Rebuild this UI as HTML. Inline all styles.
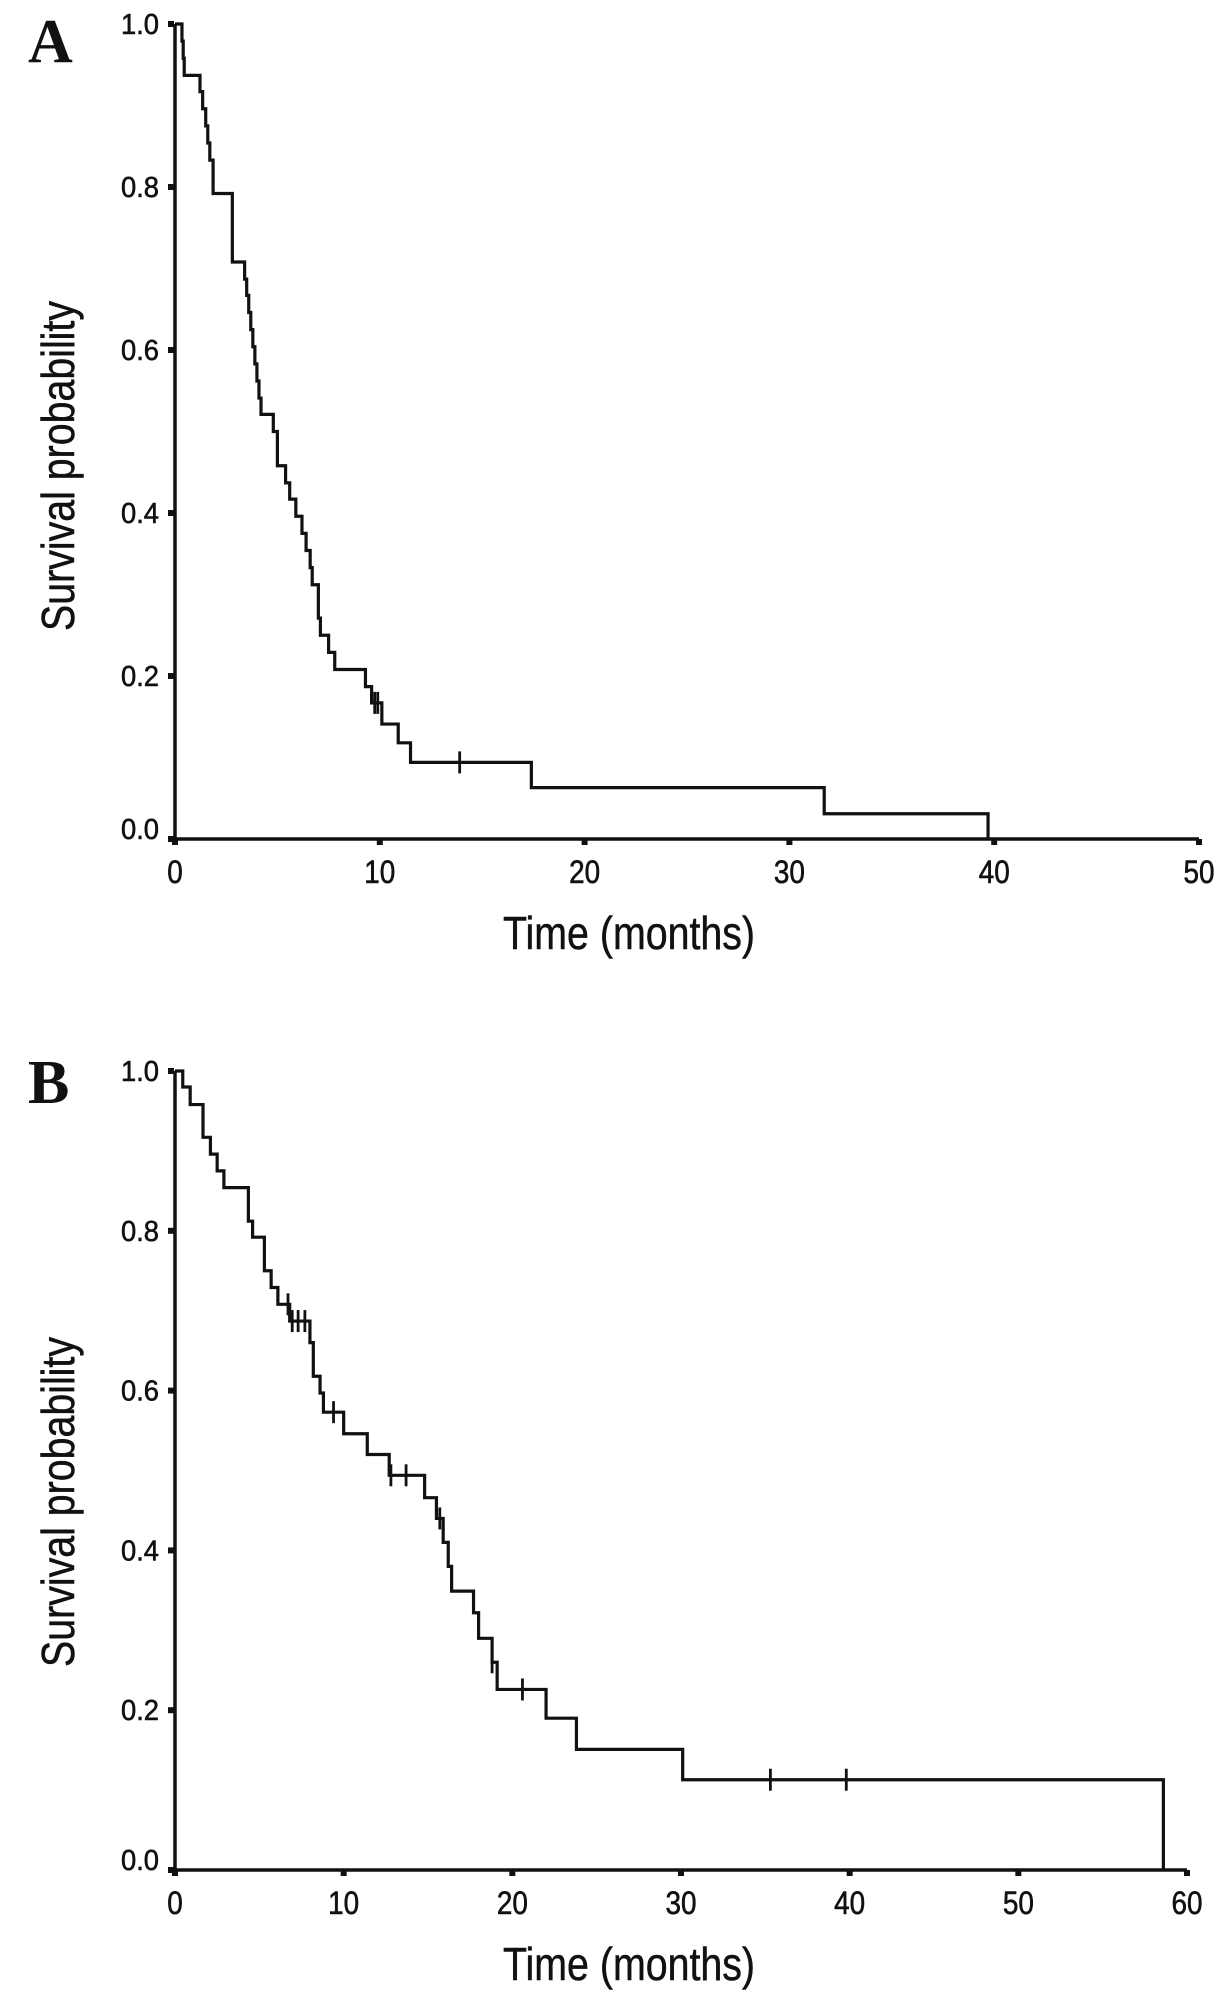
<!DOCTYPE html>
<html><head><meta charset="utf-8"><style>
html,body{margin:0;padding:0;background:#fff;}
svg{display:block;}
text{fill:#111;}
</style></head><body>
<svg id="fig" width="1224" height="2003" viewBox="0 0 1224 2003" xmlns="http://www.w3.org/2000/svg">
<text x="28" y="62" font-family="Liberation Serif, serif" font-weight="bold" font-size="62">A</text>
<text x="28" y="1103" font-family="Liberation Serif, serif" font-weight="bold" font-size="62">B</text>
</svg>
<script>
// Panel A data
const aTimes = [0.34,0.4,0.45,1.22,1.35,1.5,1.6,1.7,1.86,2.8,3.4,3.5,3.6,3.7,3.8,3.9,4.0,4.1,4.2,4.8,5.0,5.4,5.6,5.9,6.2,6.4,6.6,6.7,7.0,7.1,7.5,7.8,9.3,9.6,10.1,10.9,11.5,17.4,31.7,39.7];
const aSurv  = [0.979,0.958,0.937,0.917,0.896,0.875,0.854,0.833,0.792,0.708,0.687,0.667,0.646,0.625,0.604,0.583,0.562,0.541,0.521,0.5,0.458,0.437,0.417,0.396,0.375,0.354,0.333,0.312,0.271,0.25,0.229,0.208,0.187,0.167,0.141,0.118,0.094,0.063,0.031,0];
const aCensorTimes = [9.75,9.9,13.9];
const aXTicks = [0,10,20,30,40,50];
const yTicks = [0.0,0.2,0.4,0.6,0.8,1.0];
// Panel B data
const bTimes = [0.46,0.9,1.66,2.1,2.5,2.9,4.35,4.6,5.3,5.7,6.1,6.8,8.0,8.2,8.6,8.8,10.0,11.4,12.7,14.8,15.5,15.9,16.2,16.4,17.7,18.0,18.8,19.1,22.0,23.8,30.1,58.6];
const bSurv  = [0.98,0.958,0.917,0.896,0.875,0.854,0.812,0.792,0.75,0.729,0.708,0.687,0.66,0.618,0.597,0.573,0.546,0.52,0.494,0.466,0.44,0.41,0.38,0.349,0.322,0.29,0.26,0.226,0.19,0.151,0.113,0];
const bCensorTimes = [6.7,6.95,7.3,7.7,9.4,12.8,13.7,15.7,18.8,20.6,35.3,39.8];
const bXTicks = [0,10,20,30,40,50,60];

const NS = 'http://www.w3.org/2000/svg';
const svg = document.getElementById('fig');
function el(tag, attrs, parent){const e=document.createElementNS(NS,tag);for(const k in attrs)e.setAttribute(k,attrs[k]);(parent||svg).appendChild(e);return e;}

function panel(cfg){
  const g = el('g',{});
  
  
  const xs = t => cfg.x0 + t / cfg.xmax * (cfg.x1 - cfg.x0);
  const ys = v => cfg.y0 - v * (cfg.y0 - cfg.y1);
  const ax = el('line',{x1:xs(0),y1:cfg.y0,x2:xs(cfg.xmax),y2:cfg.y0,stroke:'#111','stroke-width':3.5},g);
  
  
  const ay = el('line',{x1:cfg.x0,y1:ys(1),x2:cfg.x0,y2:cfg.y0,stroke:'#111','stroke-width':3.5},g);
  
  
  cfg.xticks.forEach(t=>{
    const m = el('rect',{x:xs(t)-3,y:cfg.y0,width:6,height:6,fill:'#111'},g);
    
    
    const lb = el('text',{x:xs(t),y:cfg.y0+44,'text-anchor':'middle','font-family':'Liberation Sans, sans-serif','font-size':32,'stroke':'#111','stroke-width':0.6,textLength:String(t).length*15.5,lengthAdjust:'spacingAndGlyphs'},g);
    lb.textContent = t;
    
    
  });
  yTicks.forEach(v=>{
    const m = el('rect',{x:cfg.x0-7,y:ys(v)-3,width:6,height:6,fill:'#111'},g);
    
    
    const lb = el('text',{x:cfg.x0-16,y:ys(v)+10-(v===0?10:0),'text-anchor':'end','font-family':'Liberation Sans, sans-serif','font-size':29,'stroke':'#111','stroke-width':0.6,textLength:38,lengthAdjust:'spacingAndGlyphs'},g);
    lb.textContent = v.toFixed(1);
    
    
  });
  let d = 'M'+xs(0)+' '+ys(1);
  let cur = 1;
  cfg.times.forEach((t,i)=>{ d += ' L'+xs(t)+' '+ys(cur)+' L'+xs(t)+' '+ys(cfg.surv[i]); cur = cfg.surv[i]; });
  const p = el('path',{d:d,fill:'none',stroke:'#111','stroke-width':3.2},g);
  
  
  const survAt = t => { let s=1; cfg.times.forEach((tt,i)=>{ if(tt<=t) s=cfg.surv[i]; }); return s; };
  cfg.censor.forEach(t=>{
    const yy = ys(survAt(t));
    const c = el('line',{x1:xs(t),y1:yy-11,x2:xs(t),y2:yy+11,stroke:'#111','stroke-width':2.8},g);
    
    
  });
  const xt = el('text',{x:cfg.xTitleX,y:cfg.y0+110,'text-anchor':'middle','font-family':'Liberation Sans, sans-serif','font-size':46,'stroke':'#111','stroke-width':0.5,textLength:252,lengthAdjust:'spacingAndGlyphs'},g);
  xt.textContent = 'Time (months)';
  
  
  const yt = el('text',{x:0,y:0,'text-anchor':'middle','font-family':'Liberation Sans, sans-serif','font-size':46,'stroke':'#111','stroke-width':0.5,textLength:330,lengthAdjust:'spacingAndGlyphs',transform:'translate(74,'+cfg.yTitleY+') rotate(-90)'},g);
  yt.textContent = 'Survival probability';
  
  
}
panel({id:'panel-a',x0:175,x1:1199,xmax:50,y0:839,y1:24,xticks:aXTicks,times:aTimes,surv:aSurv,censor:aCensorTimes,xTitleX:629,yTitleY:466});
panel({id:'panel-b',x0:175,x1:1187,xmax:60,y0:1870,y1:1071,xticks:bXTicks,times:bTimes,surv:bSurv,censor:bCensorTimes,xTitleX:629,yTitleY:1502});
</script>
</body></html>
